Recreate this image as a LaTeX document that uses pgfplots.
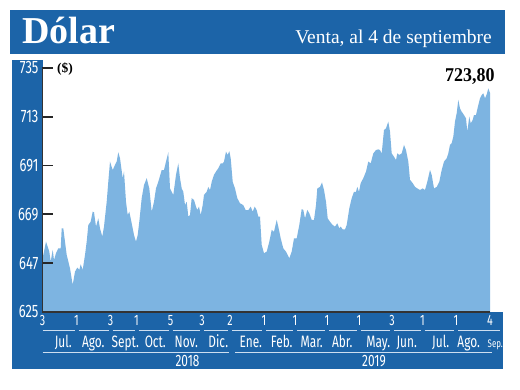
\documentclass[border=0pt]{standalone}
\usepackage{pgfplots}
\pgfplotsset{compat=1.18}
\usepackage{fontspec}
\setmainfont{Liberation Serif}
\newfontfamily\condsans[FakeStretch=0.72]{Fira Sans}
\newfontfamily\condserif[FakeStretch=0.92]{Liberation Serif}
\definecolor{bannerblue}{RGB}{28,100,168}
\definecolor{areablue}{RGB}{125,180,225}
\definecolor{linecol}{RGB}{205,222,240}
\begin{document}
\begin{tikzpicture}
\begin{scope}[x=1pt,y=1pt]
\useasboundingbox (0,0) rectangle (520,390);
\fill[white] (0,0) rectangle (520,390);
\fill[bannerblue] (10,336) rectangle (505,380);
\node[anchor=base west, inner sep=0, text=white, font=\fontsize{38}{38}\selectfont\bfseries] at (22,346.7) {Dólar};
\node[anchor=base east, inner sep=0, text=white, font=\fontsize{19.5}{19.5}\selectfont] at (492,346) {Venta, al 4 de septiembre};
\fill[bannerblue] (12,21) rectangle (42.5,330);
\fill[bannerblue] (12,21) rectangle (503,78);
\end{scope}
\begin{axis}[
  at={(42.5pt,78pt)}, anchor=south west,
  scale only axis, width=447.5pt, height=244pt,
  xmin=0, xmax=447.5, ymin=625, ymax=735,
  axis x line*=bottom, axis y line*=left,
  axis line style={-, draw=black!80, line width=1.2pt},
  axis on top,
  ytick={625,647,669,691,713,735},
  yticklabels={625,647,669,691,713,735},
  yticklabel style={text=white, font=\condsans\fontsize{18}{18}\selectfont, xshift=-0.5pt},
  ytick style={draw=black!85, line width=1.8pt},
  major tick length=11pt, tick align=inside,
  xtick={0,34,68,94,128,159.5,187.5,221.5,252.5,284.5,316.5,349.5,380,413.5,447.5},
  xticklabels={3,1,3,1,5,3,2,1,1,1,1,3,1,1,4},
  xtick style={draw=none},
  xticklabel style={text=white, font=\condsans\fontsize{15}{15}\selectfont},
]
\addplot[fill=areablue, draw=none] table {
x y
0 650.0
0.8 650.7
3.5 656.7
6.8 652.2
8.2 647.7
10.2 653.0
11.5 648.4
13.5 651.5
15.8 653.7
18.2 653.7
19.2 662.7
20.8 662.7
22.5 656.7
24.2 650.7
27.5 644.7
30.2 637.2
32.5 643.2
34.8 645.0
36.8 644.0
38.2 646.5
40.2 644.0
42.5 650.7
44.2 656.7
45.8 664.2
48.2 665.7
50.2 670.2
51.5 670.0
53.5 663.5
55.8 667.2
57.5 662.7
59.8 659.0
61.5 663.5
64.2 674.7
65.8 683.7
67.5 692.8
70.2 689.0
72.5 691.3
74.2 692.8
75.8 697.0
77.5 694.3
80.2 685.3
81.5 688.3
83.5 674.7
85.2 668.7
86.8 670.2
89.2 665.0
91.5 659.7
93.5 656.7
95.2 659.7
96.8 665.7
99.2 676.3
101.5 682.2
104.2 685.3
106.8 680.7
109.2 670.2
111.5 674.7
113.5 680.7
115.8 683.7
119.2 689.0
121.5 689.0
123.5 692.8
125.8 697.0
127.5 680.7
129.2 679.2
130.8 677.7
133.5 686.8
135.8 692.0
137.5 685.3
139.2 680.7
140.8 679.2
142.5 673.2
144.2 674.7
145.8 668.0
147.5 668.7
149.2 676.3
151.5 675.5
153.5 672.5
154.8 671.0
156.5 672.5
158.2 668.7
160.2 673.2
161.5 677.8
164.2 679.2
165.8 681.4
167.5 679.9
169.2 683.7
171.5 686.8
173.5 688.3
175.8 689.8
178.2 692.0
180.2 692.0
181.5 692.8
183.5 697.3
185.2 695.8
186.8 697.5
188.2 694.3
190.2 683.7
192.5 680.7
194.8 676.3
197.5 674.0
200.8 673.2
203.2 670.9
205.8 670.9
208.2 672.5
210.2 670.2
212.2 672.5
214.2 670.9
215.8 668.0
217.5 668.0
219.2 655.2
221.5 651.5
224.2 652.2
226.8 656.7
229.2 662.0
231.5 661.2
234.2 666.5
235.8 663.5
238.2 658.2
240.8 653.7
243.5 652.2
246.8 649.2
249.2 652.2
251.5 658.2
254.2 658.2
256.8 664.2
259.2 671.4
260.8 671.0
262.5 667.2
264.8 671.0
266.8 669.5
269.2 666.5
271.5 666.5
273.5 673.2
274.8 680.7
277.5 681.4
279.5 683.4
281.5 680.0
283.5 674.7
285.2 667.2
287.5 665.7
290.2 664.2
292.5 663.5
294.8 665.0
296.8 662.7
298.2 663.5
300.2 662.2
302.5 662.2
304.2 664.2
306.8 671.7
309.2 676.3
311.5 679.2
313.5 679.2
314.8 681.4
316.5 679.2
318.2 683.1
320.8 685.3
323.5 688.3
325.8 692.8
328.2 692.0
330.8 696.5
333.5 698.0
335.8 698.3
337.5 698.0
339.2 696.5
341.5 707.0
343.5 707.8
345.8 710.8
347.5 706.3
349.2 696.5
351.5 695.0
353.5 693.5
354.8 696.5
356.8 695.8
359.2 696.5
361.5 700.3
363.5 698.0
365.8 692.8
367.5 684.6
370.2 683.1
372.5 681.4
374.8 680.7
377.5 680.0
380.2 680.7
382.5 680.0
384.8 683.7
387.5 689.0
389.2 686.8
391.5 680.7
394.2 681.4
396.8 683.7
399.2 689.0
401.5 692.8
404.2 694.3
405.8 696.5
407.5 700.3
409.2 701.1
410.8 704.0
412.5 710.8
414.2 714.6
415.8 720.6
417.5 716.8
419.2 715.3
421.5 713.8
423.5 712.3
424.8 706.3
426.8 713.1
428.2 710.0
430.2 711.6
431.5 713.8
433.5 713.8
435.8 718.3
437.5 721.3
439.2 722.8
440.8 723.6
442.5 721.3
444.2 723.1
445.8 725.8
447.5 723.8
} \closedcycle;
\end{axis}
\begin{scope}[x=1pt,y=1pt]
\node[anchor=west, inner sep=0, font=\fontsize{13.5}{13.5}\selectfont\bfseries] at (57,321) {(\$)};
\node[anchor=base west, inner sep=0, font=\condserif\fontsize{19.5}{19.5}\selectfont\bfseries] at (445,308.3) {723,80};
% month separator lines
\draw[linecol, line width=0.9pt] (42.5,60) -- (74.5,60);
\foreach \a/\b in {76.5/110.5,110.5/136.5,136.5/170.5,170.5/202,202/230,230/264,264/295,295/327,327/359,359/392,392/422.5,422.5/456,456/490}
  \draw[linecol, line width=0.9pt] (\a+2,60) -- (\b-2,60);
\draw[linecol, line width=0.9pt] (488,60) -- (500,60);
% year lines
\draw[linecol, line width=0.9pt] (42.5,38) -- (229.3,38);
\draw[linecol, line width=0.9pt] (235,38) -- (492,38);
% month labels
\foreach \x/\m in {63.3/Jul., 93.3/Ago., 125.3/Sept., 155.3/Oct., 186.3/Nov., 218.3/Dic., 250.8/Ene., 281.7/Feb., 311.7/Mar., 342.3/Abr., 378.3/May., 406.7/Jun., 440.7/Jul., 468.7/Ago.}
  \node[anchor=base, inner sep=0, text=white, font=\condsans\fontsize{16.5}{16.5}\selectfont] at (\x,42) {\m};
\node[anchor=base, inner sep=0, text=white, font=\condsans\fontsize{11}{11}\selectfont] at (495.3,42) {Sep.};
\node[anchor=base, inner sep=0, text=white, font=\condsans\fontsize{16.5}{16.5}\selectfont] at (187.5,23.3) {2018};
\node[anchor=base, inner sep=0, text=white, font=\condsans\fontsize{16.5}{16.5}\selectfont] at (374,23.3) {2019};
\end{scope}
\end{tikzpicture}
\end{document}
